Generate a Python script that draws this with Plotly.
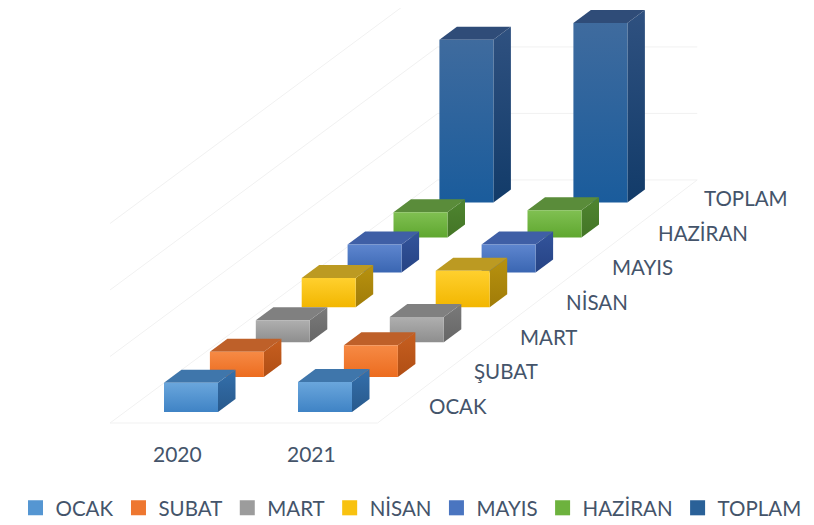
import plotly.graph_objects as go

years = ["2020", "2021"]
series_names = ["OCAK", "SUBAT", "MART", "NİSAN", "MAYIS", "HAZİRAN", "TOPLAM"]
depth_labels = ["OCAK", "ŞUBAT", "MART", "NİSAN", "MAYIS", "HAZİRAN", "TOPLAM"]
values_2020 = [44, 38, 33, 44, 42, 38, 245]
values_2021 = [45, 48, 38, 55, 42, 41, 270]
grid_values = [0, 100, 200, 300]

front_top = ["#6AA6DC", "#F68A45", "#AFAFAF", "#FFD02E", "#5E86CF", "#80C052", "#3F6B9E"]
front_bot = ["#3F83C5", "#EC6C1F", "#8E8E8E", "#F2B600", "#3A66B2", "#5FA72F", "#1A5C9C"]
top_col = ["#3F76AB", "#BE6029", "#808080", "#BC9A22", "#3F5FA6", "#5A8C3A", "#2F4C78"]
side_top = ["#3470AC", "#C75F20", "#7A7A7A", "#B8920F", "#33549C", "#4F8530", "#2F5180"]
side_bot = ["#28598C", "#B04E14", "#666666", "#A07C08", "#264384", "#437526", "#123B69"]
legend_col = ["#5596D2", "#EE7730", "#9C9C9C", "#F8C210", "#4A75C0", "#6DB23E", "#2A6198"]
text_col = "#44546A"
font = "Lato"

X0, Y0, YEAR_DX, CAT_DX, CAT_DY, UNIT = 164, 412, 134, 45.9, 34.9, 0.665
BAR_W, DEPTH_X, DEPTH_Y = 54, 17.5, 13


def project(col, cat, val):
    """Oblique projection: year position, category depth, value -> chart x, y."""
    return X0 + YEAR_DX * col + CAT_DX * cat, Y0 - CAT_DY * cat - UNIT * val


fig = go.Figure()


def poly(pts, **kw):
    xs = [p[0] for p in pts] + [pts[0][0]]
    ys = [p[1] for p in pts] + [pts[0][1]]
    fig.add_trace(go.Scatter(x=xs, y=ys, mode="lines", fill="toself",
                             line=dict(width=0, color="rgba(0,0,0,0)"),
                             hoverinfo="skip", showlegend=False, **kw))


def grad(c_top, c_bot):
    # colorscale position 0 is the bottom of the polygon on this reversed axis
    return dict(type="vertical", colorscale=[[0, c_bot], [1, c_top]])


def wall_line(pts):
    fig.add_trace(go.Scatter(x=[p[0] for p in pts], y=[p[1] for p in pts], mode="lines",
                             line=dict(color="#F1F1F1", width=1), hoverinfo="skip",
                             showlegend=False))


# floor and walls
F_CAT, B_CAT, L_OFF, R_OFF = -0.315, 6.65, -39.5, 40
for g in grid_values:
    fx, fy = project(0, F_CAT, g)
    bx, by = project(0, B_CAT, g)
    ex, ey = project(1, B_CAT, g)
    wall_line([(fx + L_OFF, fy), (bx + L_OFF + 8, by), (ex + BAR_W + R_OFF, ey)])
fl = project(0, F_CAT, 0)
fr = project(1, F_CAT, 0)
br = project(1, B_CAT, 0)
wall_line([(fl[0] + L_OFF, fl[1]), (fr[0] + BAR_W + R_OFF, fr[1]), (br[0] + BAR_W + R_OFF, br[1])])

# bars, back to front
for cat in range(len(series_names) - 1, -1, -1):
    for col, vals in enumerate([values_2020, values_2021]):
        v = vals[cat]
        xb, yb = project(col, cat, 0)
        xt, yt = project(col, cat, v)
        poly([(xb + BAR_W, yb), (xb + BAR_W + DEPTH_X, yb - DEPTH_Y),
              (xt + BAR_W + DEPTH_X, yt - DEPTH_Y), (xt + BAR_W, yt)],
             fillgradient=grad(side_top[cat], side_bot[cat]))
        poly([(xt, yt), (xt + DEPTH_X, yt - DEPTH_Y), (xt + BAR_W + DEPTH_X, yt - DEPTH_Y),
              (xt + BAR_W, yt)], fillcolor=top_col[cat])
        poly([(xb, yb), (xb + BAR_W, yb), (xt + BAR_W, yt), (xt, yt)],
             fillgradient=grad(front_top[cat], front_bot[cat]))

# legend entries
for i, name in enumerate(series_names):
    fig.add_trace(go.Scatter(x=[None], y=[None], mode="markers", name=name,
                             marker=dict(symbol="square", size=15, color=legend_col[i])))

annos = []
for col, yr in enumerate(years):
    annos.append(dict(x=X0 + YEAR_DX * col + 13, y=453, text=yr, xref="x", yref="y",
                      showarrow=False, xanchor="center", yanchor="middle",
                      font=dict(size=21)))
for cat, lab in enumerate(depth_labels):
    annos.append(dict(x=426.5 + CAT_DX * cat, y=406 - 34.7 * cat, text=lab, xref="x", yref="y",
                      showarrow=False, xanchor="left", yanchor="middle"))

# the page keeps an 8px body margin: the plot area covers chart pixels 8..814 and 8..525
fig.update_layout(
    width=806, height=517, autosize=False,
    margin=dict(l=0, r=0, t=0, b=0, autoexpand=False),
    paper_bgcolor="white", plot_bgcolor="white",
    font=dict(family=font, size=20.5, color=text_col),
    xaxis=dict(range=[8, 814], visible=False, fixedrange=True),
    yaxis=dict(range=[525, 8], visible=False, fixedrange=True),
    annotations=annos,
    legend=dict(orientation="h", x=0.5, xanchor="center", y=(525 - 508) / 517,
                yanchor="middle", itemwidth=30, font=dict(size=20.5, color=text_col),
                bgcolor="rgba(0,0,0,0)"),
)
fig.write_html("out.html")
